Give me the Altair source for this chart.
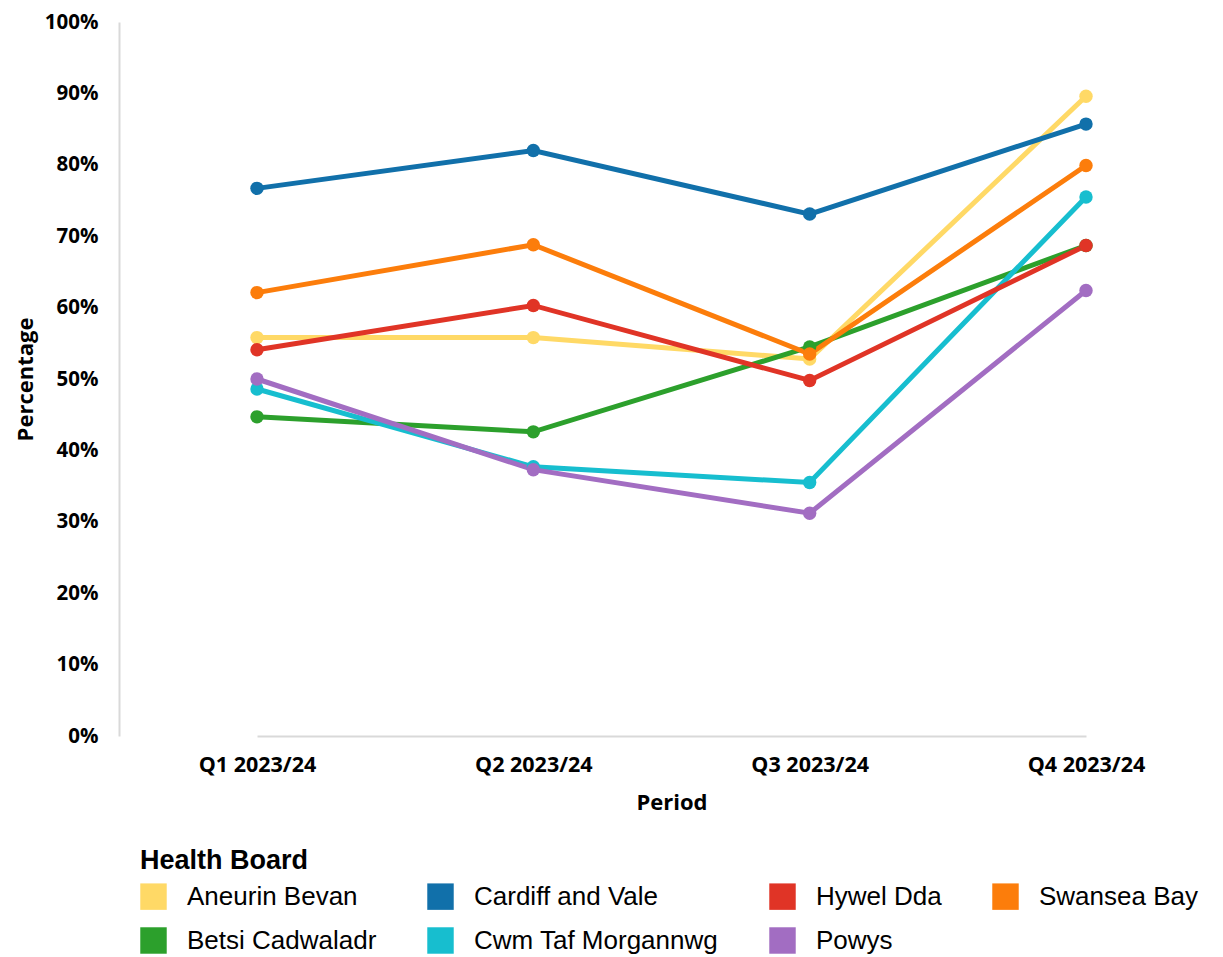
import altair as alt
import pandas as pd

periods = ["Q1 2023/24", "Q2 2023/24", "Q3 2023/24", "Q4 2023/24"]
boards = ["Aneurin Bevan", "Betsi Cadwaladr", "Cardiff and Vale", "Cwm Taf Morgannwg",
          "Hywel Dda", "Powys", "Swansea Bay"]
aneurin = [55.8, 55.8, 52.8, 89.6]
betsi = [44.7, 42.6, 54.5, 68.7]
cardiff = [76.7, 82.0, 73.1, 85.7]
cwmtaf = [48.6, 37.7, 35.5, 75.5]
hywel = [54.1, 60.3, 49.8, 68.7]
powys = [50.0, 37.3, 31.2, 62.4]
swansea = [62.1, 68.8, 53.5, 79.9]
series = [aneurin, betsi, cardiff, cwmtaf, hywel, powys, swansea]

colors = {
    "Aneurin Bevan": "#ffd966",
    "Betsi Cadwaladr": "#2ca02c",
    "Cardiff and Vale": "#1170aa",
    "Cwm Taf Morgannwg": "#17becf",
    "Hywel Dda": "#e03426",
    "Powys": "#a26dc2",
    "Swansea Bay": "#fc7d0b",
}
# legend order (row-major for 4 columns)
legend_order = ["Aneurin Bevan", "Cardiff and Vale", "Hywel Dda", "Swansea Bay",
                "Betsi Cadwaladr", "Cwm Taf Morgannwg", "Powys"]

rows = []
for bi, (b, vals) in enumerate(zip(boards, series)):
    for p, v in zip(periods, vals):
        rows.append({"Health Board": b, "Period": p, "Percentage": v / 100.0, "order": bi})
df = pd.DataFrame(rows)

color_scale = alt.Scale(domain=legend_order, range=[colors[b] for b in legend_order])

x_enc = alt.X("Period:N", sort=periods,
              scale=alt.Scale(type="point", padding=0, range=[138, 967]),
              axis=alt.Axis(title="Period", labelAngle=0, ticks=False, grid=False,
                            domainColor="#d9d9d9", domainWidth=2,
                            labelFont="Open Sans", labelFontWeight="bold", labelFontSize=21.5,
                            labelColor="#000000", labelPadding=18,
                            titleFont="Open Sans", titleFontWeight="bold", titleFontSize=22,
                            titleColor="#000000", titlePadding=17))
y_enc = alt.Y("Percentage:Q", scale=alt.Scale(domain=[0, 1], nice=False),
              axis=alt.Axis(title="Percentage", format=".0%", values=[i / 10 for i in range(11)],
                            ticks=False, grid=False, domainColor="#d9d9d9", domainWidth=2,
                            labelFont="Open Sans", labelFontWeight="bold", labelFontSize=20.5,
                            labelColor="#000000", labelPadding=21,
                            titleFont="Open Sans", titleFontWeight="bold", titleFontSize=22,
                            titleColor="#000000", titlePadding=7))
color_enc = alt.Color("Health Board:N", scale=color_scale,
                      legend=alt.Legend(title="Health Board", orient="none", legendX=21, legendY=826,
                                        direction="horizontal", columns=4,
                                        symbolType="square", symbolSize=700, symbolStrokeWidth=0,
                                        symbolOpacity=1,
                                        labelFont="Liberation Sans", labelFontSize=26,
                                        labelColor="#000000", labelOffset=20,
                                        titleFont="Liberation Sans", titleFontSize=27,
                                        titleFontWeight="bold", titleColor="#000000",
                                        titlePadding=8, rowPadding=17, columnPadding=50,
                                        labelLimit=400))

base = alt.Chart(df).encode(x=x_enc, y=y_enc, color=color_enc,
                            order=alt.Order("order:Q"), detail="order:N")

lines = base.mark_line(strokeWidth=5)
points = base.mark_circle(size=180, opacity=1)

chart = alt.layer(lines, points).properties(
    width=1096, height=714,
    autosize=alt.AutoSizeParams(type="none"),
    padding={"left": 111, "top": 14, "right": 0, "bottom": 221},
).configure_view(stroke=None)

chart.save("out.html", embed_options={"renderer": "svg", "actions": False})
